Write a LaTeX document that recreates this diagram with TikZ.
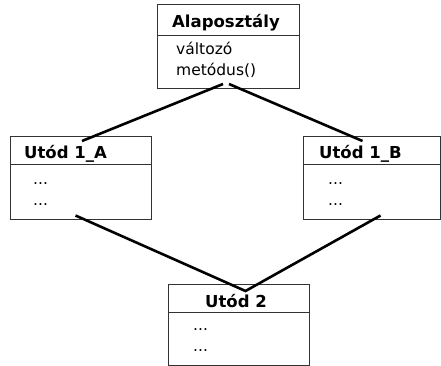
\documentclass[tikz,border=0pt]{standalone}
\usepackage{fontspec}
\setmainfont{DejaVu Sans}
\begin{document}
\begin{tikzpicture}[x=1pt,y=-1pt,
  box/.style={draw=black!80, line width=1pt, anchor=north west, inner sep=0pt},
  sep/.style={draw=black!80, line width=1pt},
  link/.style={draw=black, line width=2.6pt},
  hd/.style={inner sep=0pt, font=\fontsize{16.5}{19}\selectfont\bfseries},
  tx/.style={inner sep=0pt, font=\fontsize{15.5}{19}\selectfont}]
\useasboundingbox (0,0) rectangle (441,365);
% top class
\node[box, minimum width=142pt, minimum height=84pt] (top) at (156.5,4) {};
\draw[sep] (top.west |- 0,35.5) -- (top.east |- 0,35.5);
\node[hd, anchor=base] (toph) at (226,27) {Alaposztály};
\node[tx, anchor=base west] (topv) at (176,54) {változó};
\node[tx, anchor=base west] (topm) at (176,75) {metódus()};
% left class
\node[box, minimum width=141pt, minimum height=83pt] (A) at (10,135.5) {};
\draw[sep] (A.west |- 0,164.5) -- (A.east |- 0,164.5);
\node[hd, anchor=base west] (Ah) at (24,158) {Utód 1\_A};
\node[tx, anchor=base west] (A1) at (33,184) {...};
\node[tx, anchor=base west] (A2) at (33,205) {...};
% right class
\node[box, minimum width=137pt, minimum height=83pt] (B) at (303,135.5) {};
\draw[sep] (B.west |- 0,164.5) -- (B.east |- 0,164.5);
\node[hd, anchor=base west] (Bh) at (319,158) {Utód 1\_B};
\node[tx, anchor=base west] (B1) at (328,184) {...};
\node[tx, anchor=base west] (B2) at (328,205) {...};
% bottom class
\node[box, minimum width=141pt, minimum height=81pt] (C) at (168,283.5) {};
\draw[sep] (C.west |- 0,312.5) -- (C.east |- 0,312.5);
\node[hd, anchor=base] (Ch) at (236,307) {Utód 2};
\node[tx, anchor=base west] (C1) at (193,330) {...};
\node[tx, anchor=base west] (C2) at (193,351) {...};
% connectors
\coordinate (tl) at ([xshift=-5pt,yshift=5pt]top.south);
\coordinate (tr) at ([xshift=1pt,yshift=5pt]top.south);
\coordinate (al) at ([xshift=1pt,yshift=-5.5pt]A.north);
\coordinate (br) at ([xshift=-9.5pt,yshift=-5.5pt]B.north);
\coordinate (v) at ([xshift=6.5pt,yshift=-7.5pt]C.north);
\coordinate (ab) at ([xshift=-5.5pt,yshift=4pt]A.south);
\coordinate (bb) at ([xshift=8.5pt,yshift=4pt]B.south);
\draw[link] (al) -- (tl);
\draw[link] (tr) -- (br);
\draw[link, line join=miter] (ab) -- (v) -- (bb);
\end{tikzpicture}
\end{document}
